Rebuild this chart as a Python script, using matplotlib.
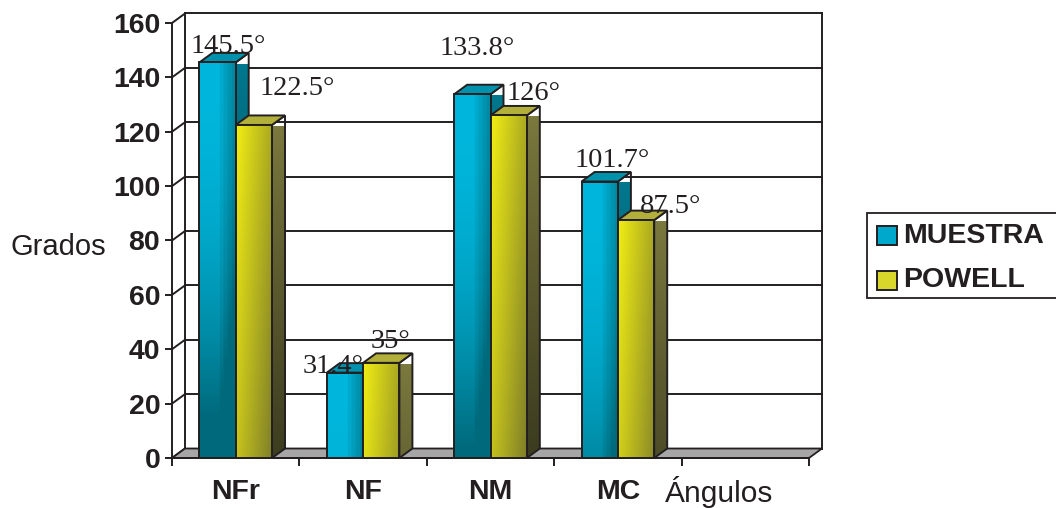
import numpy as np
import matplotlib
matplotlib.use('Agg')
import matplotlib.pyplot as plt
from matplotlib.patches import Polygon, Rectangle
from matplotlib.colors import to_rgb

plt.rcParams['font.family'] = ['Liberation Sans', 'DejaVu Sans']

categorias = ['NFr', 'NF', 'NM', 'MC']
muestra = [145.5, 31.4, 133.8, 101.7]
powell = [122.5, 35.0, 126.0, 87.5]
etiq_muestra = ['145.5°', '31.4°', '133.8°', '101.7°']
etiq_powell = ['122.5°', '35°', '126°', '87.5°']
valores_y = [0, 20, 40, 60, 80, 100, 120, 140, 160]
series = ['MUESTRA', 'POWELL']

# desplazamiento (px) de cada etiqueta respecto al centro/techo de la cara frontal
off_muestra = [(11, 9), (-11.5, 0), (4.5, 39), (12.5, 14.5)]
off_powell = [(43, 30), (9, 15), (24.5, 15), (35, 7)]

W, H = 1056, 508
NEGRO = '#231f20'
ANCHO = 0.285          # ancho de cada barra (en unidades de categoria)
n_slots = 5            # la quinta casilla queda vacia
LW = 1.4

fig = plt.figure(figsize=(W / 100, H / 100), dpi=100)
ax = fig.add_axes([172 / W, 50 / H, 637 / W, 435 / H])
ax.set_xlim(0, n_slots)
ax.set_ylim(0, 160)

# profundidad del efecto 3D en unidades de datos
px_x = 637 / n_slots
px_y = 435 / 160
DX = 13 / px_x
DY = 9.5 / px_y


def cara(verts, claro, oscuro, fn, z):
    """Rellena un poligono con un degradado (imagen recortada) y le pone borde."""
    poly = Polygon(verts, closed=True, facecolor='none', edgecolor=NEGRO,
                   lw=LW, zorder=z + 0.1, joinstyle='miter')
    ax.add_patch(poly)
    xs, ys = zip(*verts)
    x0, x1, y0, y1 = min(xs), max(xs), min(ys), max(ys)
    U, V = np.meshgrid(np.linspace(0, 1, 80), np.linspace(y0, y1, 300))
    s = np.clip(fn(U, V), 0, 1)[..., None]
    img = (1 - s) * np.array(to_rgb(claro)) + s * np.array(to_rgb(oscuro))
    im = ax.imshow(img, extent=(x0, x1, y0, y1), origin='lower', aspect='auto',
                   interpolation='bilinear', zorder=z)
    im.set_clip_path(poly)


def barra(x0, h, estilo, z):
    x1 = x0 + ANCHO
    # cara lateral
    cara([(x1, 0), (x1 + DX, DY), (x1 + DX, h + DY), (x1, h)],
         estilo['lado'][0], estilo['lado'][1],
         lambda U, V: ((h - V) / 150) ** 0.9, z)
    # cara superior
    ax.add_patch(Polygon([(x0, h), (x0 + DX, h + DY), (x1 + DX, h + DY), (x1, h)],
                         closed=True, facecolor=estilo['techo'], edgecolor=NEGRO,
                         lw=LW, zorder=z + 0.1, joinstyle='miter'))
    # cara frontal
    cara([(x0, 0), (x1, 0), (x1, h), (x0, h)],
         estilo['frente'][0], estilo['frente'][1],
         lambda U, V: estilo['grad'](U, np.clip((h - V) / 130, 0, 1)), z + 0.2)


def grad_muestra(u, vf):
    bandas = np.floor(np.clip((u - 0.45) / 0.55, 0, 1) * 5) / 5
    return 0.75 * bandas + vf ** 2.2


def grad_powell(u, vf):
    return 0.55 * u + 0.35 * vf


estilos = {
    'MUESTRA': dict(frente=('#00b6dc', '#006a7c'), lado=('#00788e', '#004654'),
                    techo='#0092ac', grad=grad_muestra),
    'POWELL': dict(frente=('#f2ee14', '#6e6e2c'), lado=('#7c7a3e', '#30301a'),
                   techo='#b2b03a', grad=grad_powell),
}

# pared del fondo, pared lateral y lineas de division
for v in valores_y:
    ax.plot([DX, n_slots + DX], [v + DY, v + DY], color=NEGRO, lw=1.4,
            clip_on=False, zorder=1)
    ax.plot([0, DX], [v, v + DY], color=NEGRO, lw=1.4, clip_on=False, zorder=1)
for xv in (DX, n_slots + DX):
    ax.plot([xv, xv], [DY, 160 + DY], color=NEGRO, lw=1.4, clip_on=False, zorder=1)

# piso
ax.add_patch(Polygon([(0, 0), (n_slots, 0), (n_slots + DX, DY), (DX, DY)],
                     closed=True, facecolor='#a6a6a6', edgecolor=NEGRO, lw=1.3,
                     clip_on=False, zorder=1.5))

# barras y etiquetas
for i, cat in enumerate(categorias):
    xm = i + 0.5 - ANCHO
    xp = i + 0.5
    barra(xm, muestra[i], estilos['MUESTRA'], 3 + i)
    barra(xp, powell[i], estilos['POWELL'], 3.5 + i)
    for x0, h, txt, (ox, oy) in ((xm, muestra[i], etiq_muestra[i], off_muestra[i]),
                                 (xp, powell[i], etiq_powell[i], off_powell[i])):
        ax.annotate(txt, (x0 + ANCHO / 2, h), xytext=(ox, oy),
                    textcoords='offset pixels', ha='center', va='baseline',
                    fontsize=20.5, family=['Liberation Serif', 'DejaVu Serif'],
                    color=NEGRO, zorder=20)

# ejes
for lado in ('top', 'right'):
    ax.spines[lado].set_visible(False)
for lado in ('left', 'bottom'):
    ax.spines[lado].set_color(NEGRO)
    ax.spines[lado].set_linewidth(1.4)
    ax.spines[lado].set_zorder(2)

ax.set_yticks(valores_y)
ax.set_yticklabels([str(v) for v in valores_y], fontsize=20.5,
                   fontweight='bold', color=NEGRO)
ax.tick_params(axis='y', length=5, width=1.4, color=NEGRO, pad=3.5)

ax.set_xticks(range(n_slots + 1))
ax.set_xticklabels([])
ax.set_xticks([i + 0.5 for i in range(len(categorias))], minor=True)
ax.set_xticklabels(categorias, minor=True, fontsize=20.5, fontweight='bold',
                   color=NEGRO)
ax.tick_params(axis='x', which='major', length=6, width=1.4, color=NEGRO)
ax.tick_params(axis='x', which='minor', length=0, pad=15)

fig.text(11 / W, 1 - 255 / H, 'Grados', fontsize=21, color=NEGRO, va='baseline')
fig.text(665 / W, 1 - 502 / H, 'Ángulos', fontsize=21.5, color=NEGRO, va='baseline')

# leyenda
fig.add_artist(Rectangle((867 / W, 1 - 298 / H), 200 / W, 85 / H,
                         facecolor='white', edgecolor=NEGRO, lw=1.3))
for nombre, yc, color in (('MUESTRA', 235.5, '#00a8cc'), ('POWELL', 280, '#d8d62a')):
    fig.add_artist(Rectangle((877 / W, 1 - (yc + 9.5) / H), 20 / W, 19 / H,
                             facecolor=color, edgecolor=NEGRO, lw=1.4))
    fig.text(903 / W, 1 - yc / H, nombre, fontsize=20.5, fontweight='bold',
             color=NEGRO, va='center')

fig.savefig('out.png', dpi=100)
